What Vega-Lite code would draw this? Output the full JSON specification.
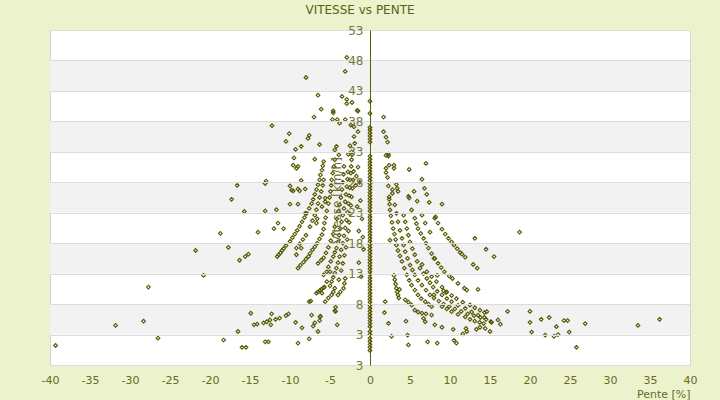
{
  "$schema": "https://vega.github.io/schema/vega-lite/v6.json",
  "width": 640,
  "height": 335,
  "autosize": "none",
  "padding": {"left": 50, "top": 30, "right": 30, "bottom": 35},
  "background": "#ECF2CC",
  "title": {"text": "VITESSE vs PENTE", "fontSize": 12, "fontWeight": "normal", "color": "#5C6118", "font": "DejaVu Sans", "offset": 7, "dx": -10},
  "config": {
    "font": "DejaVu Sans",
    "view": {"stroke": "#D4D4D4", "fill": "white"}
  },
  "resolve": {"axis": {"x": "independent", "y": "independent"}},
  "datasets": {
    "bandes": [
      {"bas": 43, "haut": 48},
      {"bas": 33, "haut": 38},
      {"bas": 23, "haut": 28},
      {"bas": 13, "haut": 18},
      {"bas": 3, "haut": 8}
    ],
    "mesures": [
      {"pente": -39.3, "vitesse": 1.2}, {"pente": -31.8, "vitesse": 4.5}, {"pente": -28.3, "vitesse": 5.2}, {"pente": -26.5, "vitesse": 2.4},
      {"pente": -27.7, "vitesse": 10.8}, {"pente": -21.8, "vitesse": 16.8}, {"pente": -20.8, "vitesse": 12.7}, {"pente": -18.7, "vitesse": 19.6},
      {"pente": -17.7, "vitesse": 17.3}, {"pente": -16.6, "vitesse": 27.5}, {"pente": -17.3, "vitesse": 25.2}, {"pente": -15.7, "vitesse": 23.2},
      {"pente": -16.3, "vitesse": 15.2}, {"pente": -15.6, "vitesse": 15.8}, {"pente": -15.2, "vitesse": 16.2}, {"pente": -16.5, "vitesse": 3.5},
      {"pente": -18.3, "vitesse": 2.1}, {"pente": -16.0, "vitesse": 0.9}, {"pente": -15.5, "vitesse": 0.9}, {"pente": -12.25, "vitesse": 37.3},
      {"pente": -13.1, "vitesse": 27.8}, {"pente": -13.0, "vitesse": 28.2}, {"pente": -13.1, "vitesse": 23.3}, {"pente": -11.7, "vitesse": 23.5},
      {"pente": -10.0, "vitesse": 24.4}, {"pente": -9.0, "vitesse": 24.4}, {"pente": -14.0, "vitesse": 19.8}, {"pente": -12.0, "vitesse": 20.4},
      {"pente": -11.5, "vitesse": 21.3}, {"pente": -10.8, "vitesse": 20.4}, {"pente": -8.6, "vitesse": 17.2}, {"pente": -9.2, "vitesse": 16.1},
      {"pente": -14.9, "vitesse": 6.5}, {"pente": -14.5, "vitesse": 4.6}, {"pente": -14.1, "vitesse": 4.7}, {"pente": -13.3, "vitesse": 4.9},
      {"pente": -12.9, "vitesse": 5.1}, {"pente": -12.5, "vitesse": 5.4}, {"pente": -12.3, "vitesse": 6.4}, {"pente": -12.4, "vitesse": 4.6},
      {"pente": -11.8, "vitesse": 5.5}, {"pente": -11.3, "vitesse": 5.7}, {"pente": -10.5, "vitesse": 6.1}, {"pente": -10.2, "vitesse": 6.4},
      {"pente": -9.3, "vitesse": 5.0}, {"pente": -8.5, "vitesse": 4.1}, {"pente": -7.3, "vitesse": 6.2}, {"pente": -6.9, "vitesse": 4.9},
      {"pente": -7.1, "vitesse": 4.4}, {"pente": -6.3, "vitesse": 5.3}, {"pente": -6.2, "vitesse": 6.0}, {"pente": -6.5, "vitesse": 3.5},
      {"pente": -7.6, "vitesse": 8.4}, {"pente": -7.4, "vitesse": 8.5}, {"pente": -4.3, "vitesse": 7.5}, {"pente": -4.3, "vitesse": 6.8},
      {"pente": -4.1, "vitesse": 4.6}, {"pente": -13.1, "vitesse": 1.8}, {"pente": -12.7, "vitesse": 1.8}, {"pente": -9.0, "vitesse": 1.6},
      {"pente": -7.6, "vitesse": 2.3}, {"pente": -6.25, "vitesse": 5.9},
      {"pente": -2.9, "vitesse": 48.5}, {"pente": -3.1, "vitesse": 46.2}, {"pente": -8.0, "vitesse": 45.2}, {"pente": -6.5, "vitesse": 42.3},
      {"pente": -3.5, "vitesse": 42.1}, {"pente": -2.9, "vitesse": 41.6}, {"pente": -2.25, "vitesse": 41.1}, {"pente": -2.9, "vitesse": 40.9},
      {"pente": -6.1, "vitesse": 40.0}, {"pente": -1.5, "vitesse": 39.7}, {"pente": -4.6, "vitesse": 39.7}, {"pente": -4.6, "vitesse": 39.4},
      {"pente": -7.0, "vitesse": 38.7}, {"pente": -4.7, "vitesse": 38.3}, {"pente": -4.1, "vitesse": 38.3}, {"pente": -3.8, "vitesse": 37.7},
      {"pente": -3.1, "vitesse": 38.3}, {"pente": -2.4, "vitesse": 37.4}, {"pente": -2.0, "vitesse": 37.1}, {"pente": -10.1, "vitesse": 36.0},
      {"pente": -10.5, "vitesse": 34.7}, {"pente": -7.6, "vitesse": 35.7}, {"pente": -7.75, "vitesse": 35.2}, {"pente": -2.0, "vitesse": 35.5},
      {"pente": -6.3, "vitesse": 34.2}, {"pente": -8.6, "vitesse": 33.9}, {"pente": -9.3, "vitesse": 33.4}, {"pente": -4.2, "vitesse": 33.9},
      {"pente": -4.4, "vitesse": 33.3}, {"pente": -2.5, "vitesse": 34.0}, {"pente": -9.5, "vitesse": 32.0}, {"pente": -6.9, "vitesse": 31.8},
      {"pente": -9.6, "vitesse": 30.8}, {"pente": -9.2, "vitesse": 30.3}, {"pente": -9.0, "vitesse": 30.6}, {"pente": -8.6, "vitesse": 28.3},
      {"pente": -10.0, "vitesse": 27.4}, {"pente": -9.8, "vitesse": 26.7}, {"pente": -9.0, "vitesse": 26.9}, {"pente": -8.1, "vitesse": 26.9},
      {"pente": -1.5, "vitesse": 36.3}, {"pente": -1.9, "vitesse": 34.4}, {"pente": -2.3, "vitesse": 33.0}, {"pente": -1.6, "vitesse": 39.8},
      {"pente": -9.6, "vitesse": 26.6}, {"pente": -8.8, "vitesse": 26.6}, {"pente": -8.1, "vitesse": 22.9}, {"pente": -6.7, "vitesse": 21.3},
      {"pente": -6.6, "vitesse": 22.0}, {"pente": -5.6, "vitesse": 25.4}, {"pente": -5.6, "vitesse": 24.8}, {"pente": -6.0, "vitesse": 24.0},
      {"pente": -3.9, "vitesse": 32.5}, {"pente": -2.7, "vitesse": 32.6},
      {"pente": -11.6, "vitesse": 15.8}, {"pente": -11.4, "vitesse": 16.1}, {"pente": -11.2, "vitesse": 16.4}, {"pente": -11.0, "vitesse": 16.8},
      {"pente": -10.8, "vitesse": 17.1}, {"pente": -10.5, "vitesse": 17.6}, {"pente": -10.0, "vitesse": 18.3}, {"pente": -9.7, "vitesse": 18.9},
      {"pente": -9.4, "vitesse": 19.5}, {"pente": -9.1, "vitesse": 20.1}, {"pente": -8.8, "vitesse": 20.8}, {"pente": -8.5, "vitesse": 21.5},
      {"pente": -8.2, "vitesse": 22.2}, {"pente": -7.9, "vitesse": 22.9}, {"pente": -7.6, "vitesse": 23.7}, {"pente": -7.3, "vitesse": 24.5},
      {"pente": -7.1, "vitesse": 25.2}, {"pente": -6.9, "vitesse": 26.0}, {"pente": -6.7, "vitesse": 26.8}, {"pente": -6.5, "vitesse": 27.6},
      {"pente": -6.3, "vitesse": 28.4}, {"pente": -6.2, "vitesse": 29.2}, {"pente": -6.0, "vitesse": 30.0}, {"pente": -5.9, "vitesse": 30.7},
      {"pente": -5.8, "vitesse": 31.4},
      {"pente": -9.2, "vitesse": 17.2}, {"pente": -8.8, "vitesse": 17.9}, {"pente": -8.4, "vitesse": 18.6}, {"pente": -8.0, "vitesse": 19.3},
      {"pente": -7.5, "vitesse": 20.7}, {"pente": -7.2, "vitesse": 21.7}, {"pente": -6.9, "vitesse": 22.6}, {"pente": -6.7, "vitesse": 23.5},
      {"pente": -6.5, "vitesse": 24.5}, {"pente": -6.3, "vitesse": 25.5}, {"pente": -6.1, "vitesse": 26.5}, {"pente": -5.9, "vitesse": 27.5},
      {"pente": -5.8, "vitesse": 28.4},
      {"pente": -9.0, "vitesse": 13.9}, {"pente": -8.7, "vitesse": 14.4}, {"pente": -8.3, "vitesse": 14.9}, {"pente": -8.0, "vitesse": 15.4},
      {"pente": -7.7, "vitesse": 15.8}, {"pente": -7.5, "vitesse": 16.3}, {"pente": -7.2, "vitesse": 16.9}, {"pente": -6.9, "vitesse": 17.4},
      {"pente": -6.6, "vitesse": 18.0}, {"pente": -6.3, "vitesse": 18.7}, {"pente": -6.0, "vitesse": 19.4}, {"pente": -5.8, "vitesse": 20.3},
      {"pente": -5.7, "vitesse": 21.3}, {"pente": -5.55, "vitesse": 22.2}, {"pente": -5.4, "vitesse": 23.3}, {"pente": -5.2, "vitesse": 24.5},
      {"pente": -5.05, "vitesse": 25.5}, {"pente": -4.95, "vitesse": 26.5}, {"pente": -4.85, "vitesse": 27.5}, {"pente": -4.8, "vitesse": 28.4},
      {"pente": -4.65, "vitesse": 29.5}, {"pente": -4.5, "vitesse": 30.6}, {"pente": -4.4, "vitesse": 31.7},
      {"pente": -6.7, "vitesse": 9.8}, {"pente": -6.0, "vitesse": 9.8}, {"pente": -5.7, "vitesse": 10.8}, {"pente": -5.4, "vitesse": 11.7},
      {"pente": -5.4, "vitesse": 13.3}, {"pente": -5.0, "vitesse": 13.3}, {"pente": -5.2, "vitesse": 14.1}, {"pente": -4.9, "vitesse": 15.0},
      {"pente": -4.6, "vitesse": 15.8}, {"pente": -4.4, "vitesse": 16.5}, {"pente": -4.2, "vitesse": 17.2}, {"pente": -4.0, "vitesse": 18.2},
      {"pente": -3.85, "vitesse": 19.3}, {"pente": -3.7, "vitesse": 20.4}, {"pente": -3.55, "vitesse": 21.5}, {"pente": -3.4, "vitesse": 22.6},
      {"pente": -3.25, "vitesse": 23.7}, {"pente": -3.1, "vitesse": 24.8}, {"pente": -3.0, "vitesse": 26.0}, {"pente": -2.9, "vitesse": 27.3},
      {"pente": -2.8, "vitesse": 28.5}, {"pente": -2.75, "vitesse": 29.7},
      {"pente": -6.5, "vitesse": 14.7}, {"pente": -6.1, "vitesse": 15.2}, {"pente": -5.8, "vitesse": 15.6}, {"pente": -5.5, "vitesse": 16.4},
      {"pente": -5.2, "vitesse": 17.3}, {"pente": -4.9, "vitesse": 18.4}, {"pente": -4.6, "vitesse": 19.5}, {"pente": -4.4, "vitesse": 20.7},
      {"pente": -4.15, "vitesse": 22.0}, {"pente": -3.95, "vitesse": 23.2}, {"pente": -3.8, "vitesse": 24.3}, {"pente": -3.65, "vitesse": 25.5},
      {"pente": -3.5, "vitesse": 26.8}, {"pente": -3.4, "vitesse": 28.0}, {"pente": -3.3, "vitesse": 29.3}, {"pente": -3.25, "vitesse": 30.6},
      {"pente": -5.0, "vitesse": 11.0}, {"pente": -4.8, "vitesse": 11.7}, {"pente": -4.6, "vitesse": 12.4}, {"pente": -4.4, "vitesse": 13.1},
      {"pente": -4.2, "vitesse": 13.9}, {"pente": -4.0, "vitesse": 14.8}, {"pente": -3.8, "vitesse": 15.8}, {"pente": -3.6, "vitesse": 16.9},
      {"pente": -3.4, "vitesse": 18.0}, {"pente": -3.25, "vitesse": 19.2}, {"pente": -3.1, "vitesse": 20.5}, {"pente": -2.95, "vitesse": 21.8},
      {"pente": -2.8, "vitesse": 23.1}, {"pente": -2.7, "vitesse": 24.5}, {"pente": -2.6, "vitesse": 25.8}, {"pente": -2.55, "vitesse": 27.1},
      {"pente": -2.5, "vitesse": 28.4}, {"pente": -2.4, "vitesse": 29.5}, {"pente": -2.35, "vitesse": 30.6}, {"pente": -2.3, "vitesse": 31.7},
      {"pente": -2.25, "vitesse": 32.5},
      {"pente": -3.9, "vitesse": 12.0}, {"pente": -3.6, "vitesse": 13.5}, {"pente": -3.4, "vitesse": 14.7}, {"pente": -3.2, "vitesse": 16.0},
      {"pente": -3.0, "vitesse": 17.3}, {"pente": -2.85, "vitesse": 18.6}, {"pente": -2.7, "vitesse": 20.0}, {"pente": -2.6, "vitesse": 21.4},
      {"pente": -2.5, "vitesse": 22.8}, {"pente": -2.4, "vitesse": 24.2}, {"pente": -2.3, "vitesse": 25.6}, {"pente": -2.2, "vitesse": 27.0},
      {"pente": -2.1, "vitesse": 28.4}, {"pente": -2.05, "vitesse": 29.8},
      {"pente": -5.8, "vitesse": 12.8}, {"pente": -6.5, "vitesse": 10.0}, {"pente": -6.1, "vitesse": 10.4}, {"pente": -5.8, "vitesse": 10.7},
      {"pente": -5.6, "vitesse": 8.4}, {"pente": -5.2, "vitesse": 9.0}, {"pente": -4.8, "vitesse": 9.5}, {"pente": -4.6, "vitesse": 10.0},
      {"pente": -4.4, "vitesse": 10.6}, {"pente": -4.0, "vitesse": 9.5}, {"pente": -3.7, "vitesse": 10.0}, {"pente": -3.3, "vitesse": 10.6},
      {"pente": -3.2, "vitesse": 11.4}, {"pente": -3.1, "vitesse": 12.2}, {"pente": -4.4, "vitesse": 6.9}, {"pente": -6.25, "vitesse": 10.2},
      {"pente": -1.5, "vitesse": 30.5}, {"pente": -1.3, "vitesse": 28.0}, {"pente": -1.2, "vitesse": 25.0}, {"pente": -1.0, "vitesse": 22.0},
      {"pente": -0.9, "vitesse": 19.0}, {"pente": -0.8, "vitesse": 17.0}, {"pente": -1.4, "vitesse": 20.0}, {"pente": -1.6, "vitesse": 24.0},
      {"pente": -1.8, "vitesse": 27.5}, {"pente": -1.7, "vitesse": 29.0}, {"pente": -1.1, "vitesse": 12.5}, {"pente": -1.4, "vitesse": 14.8},
      {"pente": 0, "vitesse": 0.4}, {"pente": 0, "vitesse": 0.9}, {"pente": 0, "vitesse": 1.4}, {"pente": 0, "vitesse": 1.9},
      {"pente": 0, "vitesse": 2.4}, {"pente": 0, "vitesse": 3.0}, {"pente": 0, "vitesse": 3.5}, {"pente": 0, "vitesse": 4.3},
      {"pente": 0, "vitesse": 4.8}, {"pente": 0, "vitesse": 5.3}, {"pente": 0, "vitesse": 5.8}, {"pente": 0, "vitesse": 6.3},
      {"pente": 0, "vitesse": 6.8}, {"pente": 0, "vitesse": 7.3}, {"pente": 0, "vitesse": 7.8}, {"pente": 0, "vitesse": 8.3},
      {"pente": 0, "vitesse": 8.8}, {"pente": 0, "vitesse": 9.3}, {"pente": 0, "vitesse": 9.8}, {"pente": 0, "vitesse": 10.3},
      {"pente": 0, "vitesse": 10.8}, {"pente": 0, "vitesse": 11.3}, {"pente": 0, "vitesse": 11.8}, {"pente": 0, "vitesse": 12.3},
      {"pente": 0, "vitesse": 12.8}, {"pente": 0, "vitesse": 13.3}, {"pente": 0, "vitesse": 13.8}, {"pente": 0, "vitesse": 14.3},
      {"pente": 0, "vitesse": 14.8}, {"pente": 0, "vitesse": 15.3}, {"pente": 0, "vitesse": 15.8}, {"pente": 0, "vitesse": 16.3},
      {"pente": 0, "vitesse": 16.8}, {"pente": 0, "vitesse": 17.3}, {"pente": 0, "vitesse": 17.8}, {"pente": 0, "vitesse": 18.3},
      {"pente": 0, "vitesse": 18.8}, {"pente": 0, "vitesse": 19.3}, {"pente": 0, "vitesse": 19.8}, {"pente": 0, "vitesse": 20.3},
      {"pente": 0, "vitesse": 20.8}, {"pente": 0, "vitesse": 21.3}, {"pente": 0, "vitesse": 21.8}, {"pente": 0, "vitesse": 22.3},
      {"pente": 0, "vitesse": 22.8}, {"pente": 0, "vitesse": 23.3}, {"pente": 0, "vitesse": 23.8}, {"pente": 0, "vitesse": 24.3},
      {"pente": 0, "vitesse": 24.8}, {"pente": 0, "vitesse": 25.3}, {"pente": 0, "vitesse": 25.8}, {"pente": 0, "vitesse": 26.3},
      {"pente": 0, "vitesse": 26.8}, {"pente": 0, "vitesse": 27.3}, {"pente": 0, "vitesse": 27.8}, {"pente": 0, "vitesse": 28.3},
      {"pente": 0, "vitesse": 28.8}, {"pente": 0, "vitesse": 29.3}, {"pente": 0, "vitesse": 29.8}, {"pente": 0, "vitesse": 30.3},
      {"pente": 0, "vitesse": 30.8}, {"pente": 0, "vitesse": 31.3}, {"pente": 0, "vitesse": 31.8}, {"pente": 0, "vitesse": 32.3},
      {"pente": 0, "vitesse": 34.6}, {"pente": 0, "vitesse": 35.1}, {"pente": 0, "vitesse": 35.6}, {"pente": 0, "vitesse": 36.1},
      {"pente": 0, "vitesse": 36.6}, {"pente": 0, "vitesse": 37.0}, {"pente": 0, "vitesse": 39.3}, {"pente": 0, "vitesse": 41.3},
      {"pente": 1.7, "vitesse": 38.7}, {"pente": 1.7, "vitesse": 36.3}, {"pente": 2.0, "vitesse": 35.4}, {"pente": 2.2, "vitesse": 34.6},
      {"pente": 2.0, "vitesse": 32.4}, {"pente": 2.3, "vitesse": 32.3}, {"pente": 2.3, "vitesse": 32.6}, {"pente": 2.4, "vitesse": 30.8},
      {"pente": 2.0, "vitesse": 30.3}, {"pente": 2.0, "vitesse": 29.6}, {"pente": 2.2, "vitesse": 28.8}, {"pente": 2.3, "vitesse": 27.4},
      {"pente": 2.4, "vitesse": 25.6}, {"pente": 2.4, "vitesse": 25.2}, {"pente": 2.45, "vitesse": 24.4},
      {"pente": 2.5, "vitesse": 23.45}, {"pente": 2.6, "vitesse": 22.5}, {"pente": 2.75, "vitesse": 21.4}, {"pente": 2.9, "vitesse": 20.4},
      {"pente": 3.05, "vitesse": 19.5}, {"pente": 3.2, "vitesse": 18.6}, {"pente": 3.3, "vitesse": 17.7}, {"pente": 3.5, "vitesse": 16.8},
      {"pente": 3.75, "vitesse": 15.9}, {"pente": 4.0, "vitesse": 15.0}, {"pente": 4.3, "vitesse": 13.9}, {"pente": 4.6, "vitesse": 12.8},
      {"pente": 4.9, "vitesse": 11.9}, {"pente": 5.2, "vitesse": 11.1}, {"pente": 5.6, "vitesse": 10.3}, {"pente": 6.0, "vitesse": 9.5},
      {"pente": 6.4, "vitesse": 8.9}, {"pente": 6.9, "vitesse": 8.4}, {"pente": 7.3, "vitesse": 8.0}, {"pente": 7.7, "vitesse": 7.6},
      {"pente": 3.3, "vitesse": 27.65}, {"pente": 3.4, "vitesse": 27.0}, {"pente": 3.5, "vitesse": 26.5}, {"pente": 3.0, "vitesse": 30.3},
      {"pente": 3.0, "vitesse": 30.8}, {"pente": 2.8, "vitesse": 26.8}, {"pente": 2.8, "vitesse": 26.2},
      {"pente": 3.1, "vitesse": 24.3}, {"pente": 3.3, "vitesse": 22.9}, {"pente": 3.5, "vitesse": 21.5}, {"pente": 3.75, "vitesse": 20.1},
      {"pente": 4.0, "vitesse": 18.8}, {"pente": 4.2, "vitesse": 17.7}, {"pente": 4.4, "vitesse": 16.6}, {"pente": 4.7, "vitesse": 15.5},
      {"pente": 5.0, "vitesse": 14.4}, {"pente": 5.3, "vitesse": 13.6}, {"pente": 5.6, "vitesse": 12.8}, {"pente": 6.0, "vitesse": 11.9},
      {"pente": 6.5, "vitesse": 11.1}, {"pente": 7.0, "vitesse": 10.3}, {"pente": 7.5, "vitesse": 9.5}, {"pente": 8.0, "vitesse": 9.0},
      {"pente": 8.6, "vitesse": 8.5}, {"pente": 9.2, "vitesse": 8.0}, {"pente": 9.9, "vitesse": 7.6}, {"pente": 10.6, "vitesse": 7.2},
      {"pente": 11.4, "vitesse": 6.8}, {"pente": 12.2, "vitesse": 6.4}, {"pente": 13.0, "vitesse": 6.1}, {"pente": 13.8, "vitesse": 5.8},
      {"pente": 14.5, "vitesse": 5.5},
      {"pente": 4.2, "vitesse": 22.6}, {"pente": 4.4, "vitesse": 21.5}, {"pente": 4.6, "vitesse": 20.4}, {"pente": 4.8, "vitesse": 19.3},
      {"pente": 5.0, "vitesse": 18.2}, {"pente": 5.3, "vitesse": 17.1}, {"pente": 5.6, "vitesse": 16.1}, {"pente": 5.9, "vitesse": 15.0},
      {"pente": 6.25, "vitesse": 13.9}, {"pente": 6.7, "vitesse": 13.0}, {"pente": 7.1, "vitesse": 12.2}, {"pente": 7.5, "vitesse": 11.5},
      {"pente": 7.9, "vitesse": 10.8}, {"pente": 8.4, "vitesse": 10.1}, {"pente": 9.0, "vitesse": 9.5}, {"pente": 9.6, "vitesse": 8.9},
      {"pente": 10.2, "vitesse": 8.4}, {"pente": 11.0, "vitesse": 7.8}, {"pente": 11.9, "vitesse": 7.3}, {"pente": 12.7, "vitesse": 6.7},
      {"pente": 13.5, "vitesse": 6.2}, {"pente": 14.3, "vitesse": 5.8},
      {"pente": 5.2, "vitesse": 23.45}, {"pente": 5.6, "vitesse": 22.1}, {"pente": 5.8, "vitesse": 21.2}, {"pente": 6.0, "vitesse": 20.4},
      {"pente": 6.35, "vitesse": 19.6}, {"pente": 6.7, "vitesse": 18.8}, {"pente": 7.0, "vitesse": 18.0}, {"pente": 7.3, "vitesse": 17.2},
      {"pente": 7.7, "vitesse": 16.3}, {"pente": 8.1, "vitesse": 15.5}, {"pente": 8.5, "vitesse": 14.7}, {"pente": 8.9, "vitesse": 14.0},
      {"pente": 9.3, "vitesse": 13.3}, {"pente": 9.9, "vitesse": 12.6}, {"pente": 10.3, "vitesse": 12.2}, {"pente": 11.0, "vitesse": 11.4},
      {"pente": 11.8, "vitesse": 10.6}, {"pente": 12.1, "vitesse": 10.3},
      {"pente": 6.5, "vitesse": 14.5}, {"pente": 7.1, "vitesse": 13.3}, {"pente": 7.7, "vitesse": 12.5}, {"pente": 8.3, "vitesse": 11.7},
      {"pente": 9.0, "vitesse": 10.8}, {"pente": 9.6, "vitesse": 10.0}, {"pente": 10.2, "vitesse": 9.4}, {"pente": 10.8, "vitesse": 8.9},
      {"pente": 11.6, "vitesse": 8.3}, {"pente": 12.5, "vitesse": 7.85}, {"pente": 13.1, "vitesse": 7.4}, {"pente": 13.75, "vitesse": 7.0},
      {"pente": 14.3, "vitesse": 6.6},
      {"pente": 8.1, "vitesse": 22.1}, {"pente": 8.5, "vitesse": 21.3}, {"pente": 9.0, "vitesse": 20.3}, {"pente": 9.4, "vitesse": 19.5},
      {"pente": 9.8, "vitesse": 18.8}, {"pente": 10.2, "vitesse": 18.2}, {"pente": 10.5, "vitesse": 17.7}, {"pente": 10.9, "vitesse": 17.1},
      {"pente": 11.25, "vitesse": 16.5}, {"pente": 11.5, "vitesse": 16.2}, {"pente": 11.9, "vitesse": 15.7},
      {"pente": 9.0, "vitesse": 7.6}, {"pente": 9.6, "vitesse": 7.2}, {"pente": 10.2, "vitesse": 6.75}, {"pente": 11.0, "vitesse": 6.3},
      {"pente": 11.9, "vitesse": 5.9}, {"pente": 12.5, "vitesse": 5.5}, {"pente": 13.1, "vitesse": 5.2}, {"pente": 13.7, "vitesse": 5.0},
      {"pente": 14.2, "vitesse": 4.8}, {"pente": 5.6, "vitesse": 7.0}, {"pente": 6.0, "vitesse": 6.7}, {"pente": 6.5, "vitesse": 6.5},
      {"pente": 7.0, "vitesse": 6.4}, {"pente": 7.7, "vitesse": 6.2}, {"pente": 4.4, "vitesse": 8.7}, {"pente": 4.8, "vitesse": 8.3},
      {"pente": 5.2, "vitesse": 7.85}, {"pente": 6.7, "vitesse": 5.65}, {"pente": 6.9, "vitesse": 5.1},
      {"pente": 3.1, "vitesse": 12.0}, {"pente": 3.3, "vitesse": 10.6}, {"pente": 3.5, "vitesse": 9.5}, {"pente": 3.7, "vitesse": 10.4},
      {"pente": 3.2, "vitesse": 11.3}, {"pente": 3.4, "vitesse": 10.0}, {"pente": 3.0, "vitesse": 12.7}, {"pente": 3.6, "vitesse": 9.0},
      {"pente": 2.5, "vitesse": 18.5},
      {"pente": 5.9, "vitesse": 24.9}, {"pente": 7.4, "vitesse": 24.7}, {"pente": 9.0, "vitesse": 24.4}, {"pente": 6.5, "vitesse": 22.6},
      {"pente": 8.2, "vitesse": 22.3}, {"pente": 6.9, "vitesse": 21.3}, {"pente": 7.5, "vitesse": 19.8}, {"pente": 13.1, "vitesse": 18.8},
      {"pente": 14.5, "vitesse": 17.0}, {"pente": 15.5, "vitesse": 15.8}, {"pente": 12.9, "vitesse": 14.5}, {"pente": 13.4, "vitesse": 13.9},
      {"pente": 8.0, "vitesse": 15.5}, {"pente": 8.4, "vitesse": 12.7}, {"pente": 13.5, "vitesse": 10.4}, {"pente": 8.0, "vitesse": 9.5},
      {"pente": 9.2, "vitesse": 10.2}, {"pente": 9.5, "vitesse": 9.9}, {"pente": 1.9, "vitesse": 8.4}, {"pente": 1.8, "vitesse": 6.6},
      {"pente": 2.3, "vitesse": 4.85}, {"pente": 2.7, "vitesse": 2.7}, {"pente": 4.5, "vitesse": 5.2}, {"pente": 4.7, "vitesse": 2.9},
      {"pente": 4.8, "vitesse": 1.3}, {"pente": 7.2, "vitesse": 1.8}, {"pente": 8.4, "vitesse": 1.6}, {"pente": 10.5, "vitesse": 2.05},
      {"pente": 10.8, "vitesse": 1.6}, {"pente": 8.1, "vitesse": 4.6}, {"pente": 9.0, "vitesse": 4.2}, {"pente": 10.4, "vitesse": 3.85},
      {"pente": 11.6, "vitesse": 3.1}, {"pente": 12.1, "vitesse": 3.5}, {"pente": 12.0, "vitesse": 4.0}, {"pente": 13.3, "vitesse": 3.85},
      {"pente": 13.75, "vitesse": 4.2}, {"pente": 14.4, "vitesse": 4.0}, {"pente": 14.6, "vitesse": 6.75}, {"pente": 15.1, "vitesse": 5.1},
      {"pente": 15.0, "vitesse": 3.5}, {"pente": 16.0, "vitesse": 5.4},
      {"pente": 4.9, "vitesse": 30.1}, {"pente": 7.0, "vitesse": 31.1}, {"pente": 6.5, "vitesse": 28.5}, {"pente": 6.8, "vitesse": 27.0},
      {"pente": 7.1, "vitesse": 26.0}, {"pente": 5.5, "vitesse": 26.5}, {"pente": 4.8, "vitesse": 25.7}, {"pente": 4.9, "vitesse": 25.4},
      {"pente": 18.7, "vitesse": 19.8}, {"pente": 17.2, "vitesse": 6.8}, {"pente": 20.0, "vitesse": 6.8}, {"pente": 15.2, "vitesse": 5.0},
      {"pente": 16.3, "vitesse": 4.7}, {"pente": 20.0, "vitesse": 5.0}, {"pente": 20.2, "vitesse": 3.4}, {"pente": 21.4, "vitesse": 5.5},
      {"pente": 22.4, "vitesse": 5.8}, {"pente": 23.3, "vitesse": 4.3}, {"pente": 21.9, "vitesse": 2.9}, {"pente": 23.0, "vitesse": 2.7},
      {"pente": 23.5, "vitesse": 3.0}, {"pente": 24.25, "vitesse": 5.3}, {"pente": 24.7, "vitesse": 5.3}, {"pente": 24.9, "vitesse": 3.4},
      {"pente": 26.9, "vitesse": 4.8}, {"pente": 25.8, "vitesse": 0.9}, {"pente": 33.5, "vitesse": 4.5}, {"pente": 36.2, "vitesse": 5.5}
    ]
  },
  "layer": [
    {
      "data": {"name": "bandes"},
      "mark": {"type": "rect", "color": "#F2F2F2"},
      "encoding": {
        "x": {"datum": -40, "type": "quantitative", "axis": null},
        "x2": {"datum": 40},
        "y": {
          "field": "bas",
          "type": "quantitative",
          "scale": {"domain": [-2, 53], "nice": false, "zero": false},
          "axis": {
            "orient": "right",
            "title": null,
            "values": [-2, 3, 8, 13, 18, 23, 28, 33, 38, 43, 48, 53],
            "grid": true,
            "gridColor": "#DCDCDC",
            "gridWidth": 1,
            "labels": false,
            "ticks": false,
            "domain": false,
            "zindex": 1
          }
        },
        "y2": {"field": "haut"}
      }
    },
    {
      "data": {"name": "mesures"},
      "mark": {"type": "point", "shape": "diamond", "size": 14, "filled": false, "color": "#545800", "strokeWidth": 1.1, "opacity": 1},
      "encoding": {
        "x": {
          "field": "pente",
          "type": "quantitative",
          "scale": {"domain": [-40, 40], "nice": false, "zero": false},
          "axis": {
            "title": "Pente [%]",
            "values": [-40, -35, -30, -25, -20, -15, -10, -5, 0, 5, 10, 15, 20, 25, 30, 35, 40],
            "labelExpr": "toString(datum.value)",
            "grid": false,
            "domain": false,
            "ticks": false,
            "labelFlush": false,
            "labelPadding": 9,
            "labelFontSize": 11,
            "labelColor": "#6A6A22",
            "titleAnchor": "end",
            "titleFontSize": 11,
            "titleFontWeight": "normal",
            "titleColor": "#6A6A22",
            "titlePadding": 3
          }
        },
        "y": {
          "field": "vitesse",
          "type": "quantitative",
          "scale": {"domain": [-2, 53], "nice": false, "zero": false},
          "axis": {
            "title": "Vitesse [km/h]",
            "values": [-2, 3, 8, 13, 18, 23, 28, 33, 38, 43, 48, 53],
            "labelExpr": "datum.value < 0 ? '3' : toString(datum.value)",
            "offset": -320,
            "grid": false,
            "ticks": false,
            "domainColor": "#5A5E00",
            "domainWidth": 1,
            "labelFlush": false,
            "labelPadding": 7,
            "labelFontSize": 12,
            "labelColor": "#76763A",
            "titleFontSize": 12,
            "titleFontWeight": "normal",
            "titleColor": "#6E6E2E",
            "titleX": -27,
            "titleY": 170,
            "titleAngle": -90,
            "titleAlign": "center",
            "titleBaseline": "bottom",
            "zindex": 1
          }
        }
      }
    }
  ]
}
